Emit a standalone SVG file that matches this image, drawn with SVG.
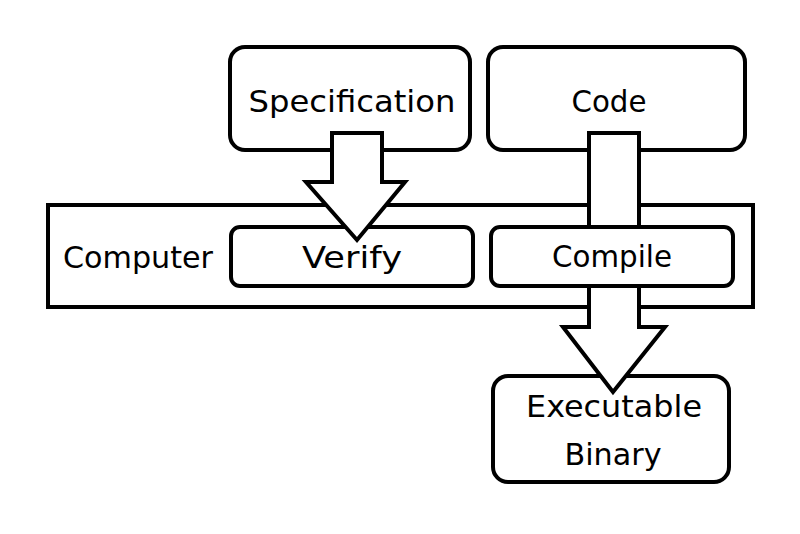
<svg xmlns="http://www.w3.org/2000/svg" width="800" height="534" viewBox="0 0 800 534">
<style>
.box{fill:#fff;stroke:#000;stroke-width:4}
.arrow{fill:#fff;stroke:#000;stroke-width:4;stroke-linejoin:miter}
.t{font-family:"DejaVu Sans","Liberation Sans",sans-serif;font-size:31px;fill:#000;text-anchor:middle}
</style>
<rect width="800" height="534" fill="#fff"/>
<g id="computer">
<rect class="box" x="48" y="205" width="705" height="102"/>
<text class="t" x="138" y="268" textLength="150" lengthAdjust="spacingAndGlyphs">Computer</text>
</g>
<g id="verify">
<rect class="box" x="231" y="227" width="242" height="59" rx="9"/>
<text class="t" x="352" y="268" textLength="100" lengthAdjust="spacingAndGlyphs">Verify</text>
</g>
<g id="executable">
<rect class="box" x="493" y="376" width="236" height="106" rx="15"/>
<text class="t" x="614" y="417" textLength="176" lengthAdjust="spacingAndGlyphs">Executable</text>
<text class="t" x="613" y="465" textLength="97" lengthAdjust="spacingAndGlyphs">Binary</text>
</g>
<g id="specification">
<rect class="box" x="230" y="47" width="240" height="103" rx="15"/>
<text class="t" x="352" y="112" textLength="207" lengthAdjust="spacingAndGlyphs">Specification</text>
</g>
<g id="code">
<rect class="box" x="488" y="47" width="257" height="103" rx="15"/>
<text class="t" x="609" y="112" textLength="75" lengthAdjust="spacingAndGlyphs">Code</text>
</g>
<g id="connectors">
<path class="arrow" d="M332,133 H382 V182 H405 L357,240 L306,182 H332 Z"/>
<path class="arrow" d="M589,133 H639 V327 H665 L613,392 L563,327 H589 Z"/>
</g>
<g id="compile">
<rect class="box" x="491" y="227" width="242" height="59" rx="9"/>
<text class="t" x="612" y="267" textLength="120" lengthAdjust="spacingAndGlyphs">Compile</text>
</g>
</svg>
